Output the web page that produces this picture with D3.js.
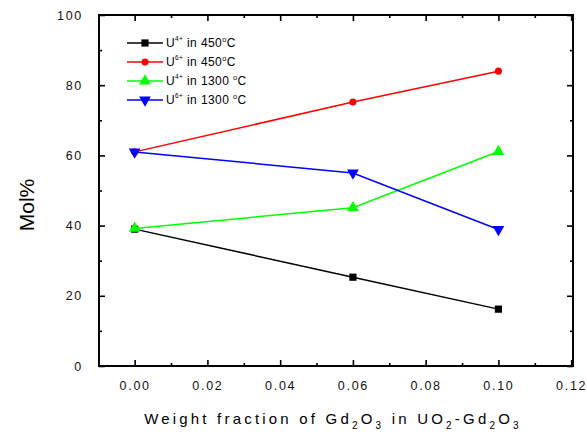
<!DOCTYPE html>
<html>
<head>
<meta charset="utf-8">
<script src="https://cdn.jsdelivr.net/npm/d3@7"></script>
<style>
  body { margin: 0; background: #fff; }
  svg { font-family: 'Liberation Sans', Arial, sans-serif; }
  .tick-label { font-size: 12.5px; letter-spacing: 1.7px; fill: #111; }
</style>
</head>
<body>
<svg width="587" height="434"></svg>
<script>
// data
const xValues = [0.00, 0.06, 0.10];
const u4At450 = [39.0, 25.3, 16.2];
const u6At450 = [61.0, 75.2, 84.0];
const u4At1300 = [39.2, 45.1, 61.1];
const u6At1300 = [61.0, 55.0, 38.9];
const seriesNames = ['U4+ in 450C', 'U6+ in 450C', 'U4+ in 1300C', 'U6+ in 1300C'];
const xTicks = [0.00, 0.02, 0.04, 0.06, 0.08, 0.10, 0.12];
const yTicks = [0, 20, 40, 60, 80, 100];

const series = [
  {name: seriesNames[0], ion: '4+', temp: '450', values: u4At450, color: '#000000', symbol: d3.symbolSquare, size: 52, rot: 0},
  {name: seriesNames[1], ion: '6+', temp: '450', values: u6At450, color: '#ff0000', symbol: d3.symbolCircle, size: 40, rot: 0},
  {name: seriesNames[2], ion: '4+', temp: '1300 ', values: u4At1300, color: '#00ff00', symbol: d3.symbolTriangle, size: 60, rot: 0},
  {name: seriesNames[3], ion: '6+', temp: '1300 ', values: u6At1300, color: '#0000ff', symbol: d3.symbolTriangle, size: 60, rot: 180}
];

const svg = d3.select('svg'),
    margin = {top: 15, right: 14, bottom: 68, left: 99},
    width = +svg.attr('width') - margin.left - margin.right,
    height = +svg.attr('height') - margin.top - margin.bottom;

const x = d3.scaleLinear().domain([-0.0098, 0.1205]).range([0, width]);
const y = d3.scaleLinear().domain([0, 100]).range([height, 0]);

const g = svg.append('g')
  .attr('transform', 'translate(' + margin.left + ',' + margin.top + ')');

// minor ticks sit halfway between majors
const xMinor = d3.range(-0.01, 0.121, 0.01).filter(function(d) { return Math.round(d * 100) % 2 !== 0; });
const yMinor = d3.range(10, 100, 20);

function axisStyle(sel) {
  sel.select('.domain').remove();
  sel.selectAll('.tick line').attr('stroke', '#000').attr('stroke-width', 1.6);
}

// bottom axis, ticks pointing inward
g.append('g')
  .attr('transform', 'translate(0,' + height + ')')
  .call(d3.axisBottom(x).tickValues(xTicks).tickSize(-6).tickPadding(15).tickFormat(d3.format('.2f')))
  .call(axisStyle)
  .selectAll('text').attr('class', 'tick-label').attr('font-size', null).attr('font-family', null);
g.append('g')
  .attr('transform', 'translate(0,' + height + ')')
  .call(d3.axisBottom(x).tickValues(xMinor).tickSize(-3).tickFormat(''))
  .call(axisStyle);

// top mirror
g.append('g')
  .call(d3.axisTop(x).tickValues(xTicks).tickSize(-6).tickFormat(''))
  .call(axisStyle);
g.append('g')
  .call(d3.axisTop(x).tickValues(xMinor).tickSize(-3).tickFormat(''))
  .call(axisStyle);

// left axis
g.append('g')
  .call(d3.axisLeft(y).tickValues(yTicks).tickSize(-6).tickPadding(16))
  .call(axisStyle)
  .selectAll('text').attr('class', 'tick-label').attr('font-size', null).attr('font-family', null);
g.append('g')
  .call(d3.axisLeft(y).tickValues(yMinor).tickSize(-3).tickFormat(''))
  .call(axisStyle);

// right mirror
g.append('g')
  .attr('transform', 'translate(' + width + ',0)')
  .call(d3.axisRight(y).tickValues(yTicks).tickSize(-6).tickFormat(''))
  .call(axisStyle);
g.append('g')
  .attr('transform', 'translate(' + width + ',0)')
  .call(d3.axisRight(y).tickValues(yMinor).tickSize(-3).tickFormat(''))
  .call(axisStyle);

// frame
g.append('rect')
  .attr('width', width)
  .attr('height', height)
  .attr('fill', 'none')
  .attr('stroke', '#000')
  .attr('stroke-width', 2);

const line = d3.line()
  .x(function(d, i) { return x(xValues[i]); })
  .y(function(d) { return y(d); });

series.forEach(function(s) {
  g.append('path')
    .datum(s.values)
    .attr('fill', 'none')
    .attr('stroke', s.color)
    .attr('stroke-width', 1.5)
    .attr('d', line);
});

series.forEach(function(s) {
  g.selectAll(null)
    .data(s.values)
    .enter().append('path')
      .attr('transform', function(d, i) { return 'translate(' + x(xValues[i]) + ',' + y(d) + ') rotate(' + s.rot + ')'; })
      .attr('d', d3.symbol().type(s.symbol).size(s.size))
      .attr('fill', s.color);
});

// legend
const legend = svg.append('g')
  .attr('transform', 'translate(127,43)');

const legendItem = legend.selectAll('g')
  .data(series)
  .enter().append('g')
    .attr('transform', function(d, i) { return 'translate(0,' + (i * 19) + ')'; });

legendItem.append('line')
  .attr('x1', 0).attr('x2', 36)
  .attr('stroke', function(d) { return d.color; })
  .attr('stroke-width', 1.5);

legendItem.append('path')
  .attr('transform', function(d) { return 'translate(18,0) rotate(' + d.rot + ')'; })
  .attr('d', function(d) { return d3.symbol().type(d.symbol).size(d.size)(); })
  .attr('fill', function(d) { return d.color; });

const legendText = legendItem.append('text')
  .attr('x', 39)
  .attr('y', 4)
  .attr('font-size', 12)
  .attr('letter-spacing', 0.4);
legendText.append('tspan').text('U');
legendText.append('tspan').attr('font-size', 6.5).attr('dy', -6).text(function(d) { return d.ion; });
legendText.append('tspan').attr('dy', 6).text(function(d) { return ' in ' + d.temp; });
legendText.append('tspan').attr('font-size', 7.5).attr('dy', -5).text('o');
legendText.append('tspan').attr('dy', 5).text('C');

// axis titles
svg.append('text')
  .attr('transform', 'translate(34,205) rotate(-90)')
  .attr('text-anchor', 'middle')
  .attr('font-size', 21)
  .text('Mol%');

const xTitle = svg.append('text')
  .attr('x', 333)
  .attr('y', 424)
  .attr('text-anchor', 'middle')
  .attr('font-size', 15)
  .attr('letter-spacing', 3.2);
xTitle.append('tspan').text('Weight fraction of Gd');
xTitle.append('tspan').attr('font-size', 10).attr('dy', 5).text('2');
xTitle.append('tspan').attr('dy', -5).text('O');
xTitle.append('tspan').attr('font-size', 10).attr('dy', 5).text('3');
xTitle.append('tspan').attr('dy', -5).text(' in UO');
xTitle.append('tspan').attr('font-size', 10).attr('dy', 5).text('2');
xTitle.append('tspan').attr('dy', -5).text('-Gd');
xTitle.append('tspan').attr('font-size', 10).attr('dy', 5).text('2');
xTitle.append('tspan').attr('dy', -5).text('O');
xTitle.append('tspan').attr('font-size', 10).attr('dy', 5).text('3');
</script>
</body>
</html>
